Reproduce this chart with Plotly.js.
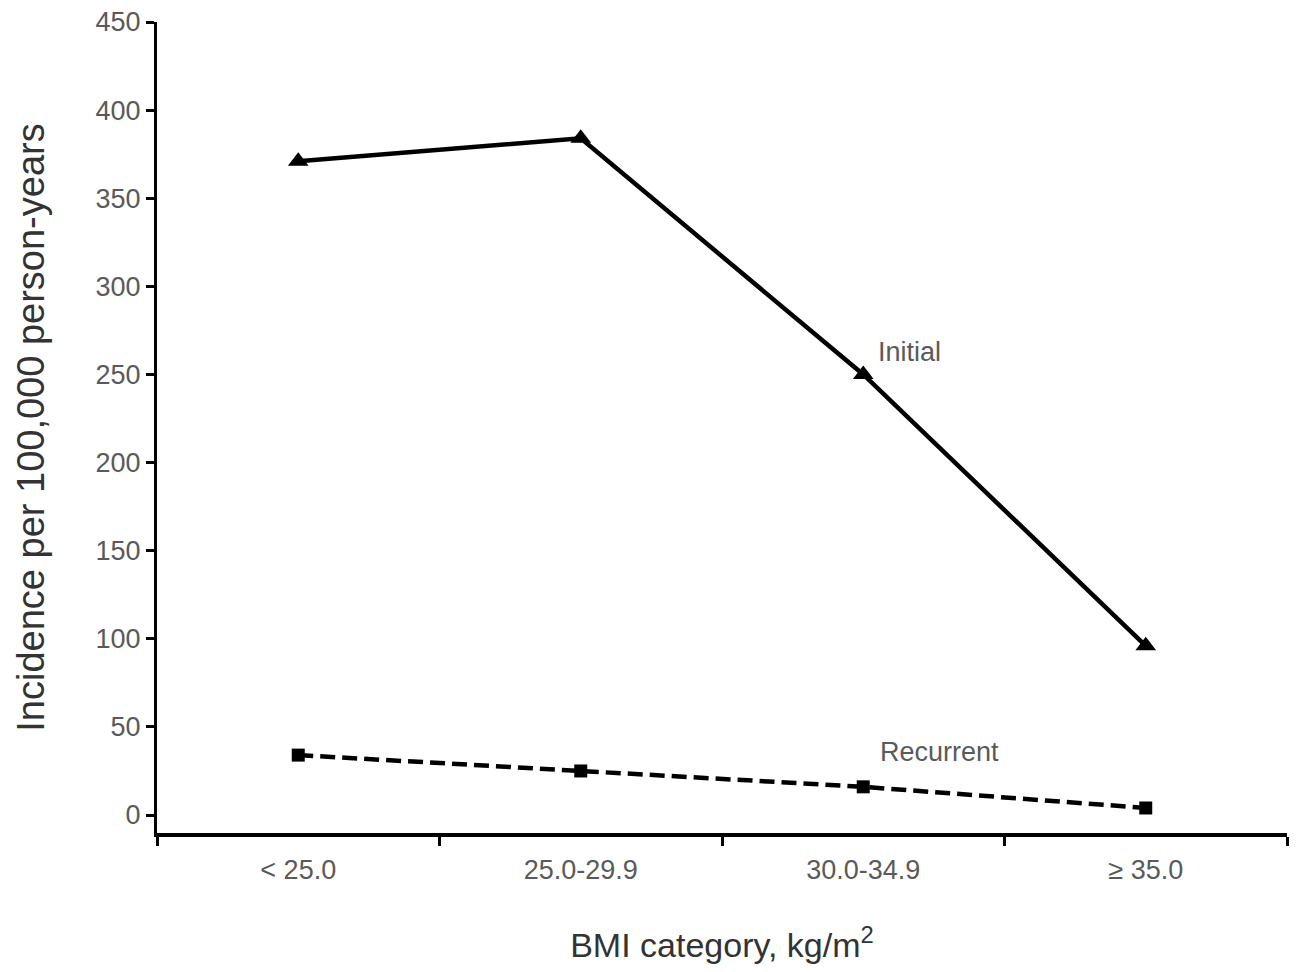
<!DOCTYPE html>
<html>
<head>
<meta charset="utf-8">
<script src="https://cdn.plot.ly/plotly-3.0.1.min.js"></script>
<style>html,body{margin:0;padding:0;background:#fff;}#chart{width:1301px;height:972px;}</style>
</head>
<body>
<div id="chart"></div>
<script>
const categories = ["< 25.0", "25.0-29.9", "30.0-34.9", "\u2265 35.0"];
const initialValues = [371, 384, 250, 96];
const recurrentValues = [34, 25, 16, 4];
const yTickValues = [0, 50, 100, 150, 200, 250, 300, 350, 400, 450];

const textFont = {family: "Liberation Sans, Arial, sans-serif", size: 27, color: "#5a5a5a"};

const traces = [
  {
    x: categories, y: initialValues, name: "Initial", type: "scatter", mode: "lines+markers",
    line: {color: "#000", width: 4.5},
    marker: {symbol: "triangle-up", size: 18, color: "#000"}
  },
  {
    x: categories, y: recurrentValues, name: "Recurrent", type: "scatter", mode: "lines+markers",
    line: {color: "#000", width: 4.5, dash: "15px,7px"},
    marker: {symbol: "square", size: 13, color: "#000"}
  }
];

const layout = {
  width: 1301, height: 972,
  paper_bgcolor: "#fff", plot_bgcolor: "#fff",
  margin: {l: 157, r: 14, t: 22, b: 139},
  showlegend: false,
  font: textFont,
  xaxis: {
    type: "category", range: [-0.5, 3.5],
    showline: true, linecolor: "#000", linewidth: 4,
    ticks: "outside", tickson: "boundaries", ticklen: 9, tickwidth: 3, tickcolor: "#000",
    showgrid: false, zeroline: false,
    tickfont: textFont, ticklabelstandoff: 10,
    title: {text: "BMI category, kg/m<sup>2</sup>", font: {family: "Liberation Sans, Arial, sans-serif", size: 34, color: "#333"}, standoff: 50}
  },
  yaxis: {
    range: [-10.2, 450], tickvals: yTickValues,
    showline: true, linecolor: "#000", linewidth: 3, mirror: false,
    ticks: "outside", ticklen: 8, tickwidth: 3, tickcolor: "#000",
    showgrid: false, zeroline: false,
    tickfont: textFont,
    title: {text: "Incidence per 100,000 person-years", font: {family: "Liberation Sans, Arial, sans-serif", size: 38, color: "#333"}, standoff: 40}
  },
  annotations: [
    {x: 2.165, y: 263, xref: "x", yref: "y", text: "Initial", showarrow: false, font: textFont},
    {x: 2.27, y: 36, xref: "x", yref: "y", text: "Recurrent", showarrow: false, font: textFont}
  ]
};

Plotly.newPlot("chart", traces, layout, {displayModeBar: false, staticPlot: true});
</script>
</body>
</html>
